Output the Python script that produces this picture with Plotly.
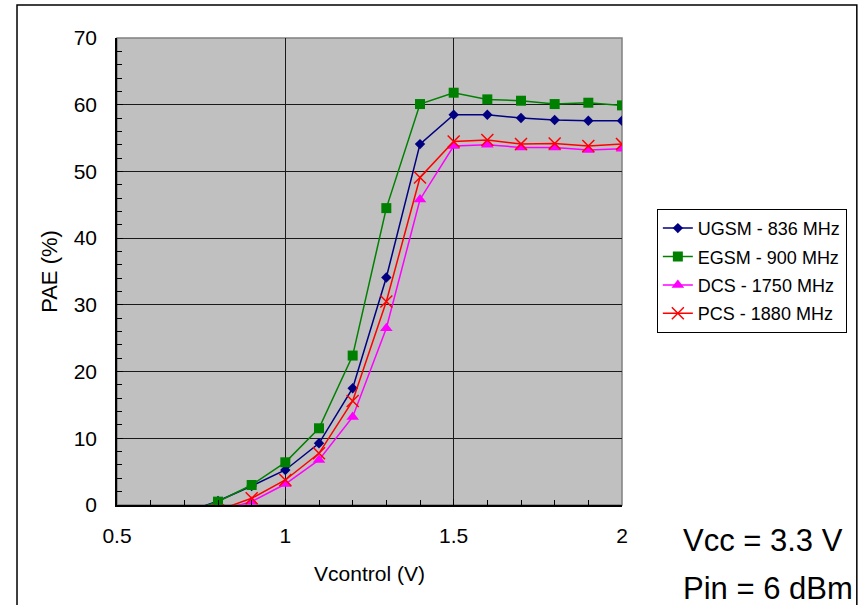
import plotly.graph_objects as go

# Control voltage sweep (V)
vcontrol = [0.7, 0.8, 0.9, 1.0, 1.1, 1.2, 1.3, 1.4, 1.5, 1.6, 1.7, 1.8, 1.9, 2.0]
vcontrol_hb = [0.8, 0.9, 1.0, 1.1, 1.2, 1.3, 1.4, 1.5, 1.6, 1.7, 1.8, 1.9, 2.0]

# Power-added efficiency (%) per band
pae_ugsm = [-1.2, 0.6, 2.85, 5.25, 9.25, 17.5, 34.1, 54.1, 58.5, 58.5, 58.0, 57.7, 57.6, 57.6]
pae_egsm = [-1.2, 0.5, 3.0, 6.4, 11.5, 22.4, 44.5, 60.1, 61.8, 60.8, 60.6, 60.1, 60.3, 59.9]
pae_dcs = [-0.9, 0.5, 3.15, 6.75, 13.2, 26.5, 45.8, 53.8, 54.0, 53.6, 53.6, 53.2, 53.4]
pae_pcs = [-0.8, 1.0, 3.75, 7.75, 15.6, 30.5, 49.1, 54.5, 54.7, 54.1, 54.2, 53.8, 54.1]

series = [
    ("UGSM - 836 MHz", vcontrol, pae_ugsm, "#000080", "diamond", 8),
    ("EGSM - 900 MHz", vcontrol, pae_egsm, "#008000", "square", 10),
    ("DCS - 1750 MHz", vcontrol_hb, pae_dcs, "#FF00FF", "triangle-up", 11),
    ("PCS - 1880 MHz", vcontrol_hb, pae_pcs, "#FF0000", "x-thin", 12),
]

FONT = "Liberation Sans, Arial, sans-serif"

fig = go.Figure()
for i, (name, xs, ys, color, symbol, size) in enumerate(series):
    marker = dict(symbol=symbol, size=size, color=color)
    if symbol == "x-thin":
        marker["line"] = dict(color=color, width=1.5)
    fig.add_trace(go.Scatter(
        x=xs, y=ys, name=name, mode="lines+markers",
        line=dict(color=color, width=1.5),
        marker=marker,
        legendgroup=f"g{i}",
    ))

# Plot-area border (grey top/right edges)
fig.add_shape(type="rect", xref="x domain", yref="y domain",
              x0=0, x1=1, y0=0, y1=1, layer="below",
              line=dict(color="#808080", width=1.5))
# Outer chart frame
fig.add_shape(type="rect", xref="paper", yref="paper",
              x0=-0.198, x1=1.465, y0=-0.3, y1=1.0707, layer="above",
              line=dict(color="#000000", width=1.5))

fig.add_annotation(text="Vcc = 3.3 V", xref="paper", yref="paper",
                   x=1.117, y=-0.075, xanchor="left", yanchor="middle",
                   showarrow=False, font=dict(family=FONT, size=31, color="#000"))
fig.add_annotation(text="Pin = 6 dBm", xref="paper", yref="paper",
                   x=1.117, y=-0.178, xanchor="left", yanchor="middle",
                   showarrow=False, font=dict(family=FONT, size=31, color="#000"))

fig.update_layout(
    width=865, height=605,
    margin=dict(l=117, r=243, t=38, b=100),
    paper_bgcolor="#FFFFFF",
    plot_bgcolor="#C0C0C0",
    font=dict(family=FONT, size=21, color="#000000"),
    legend=dict(
        x=1.069, y=0.634, xanchor="left", yanchor="top",
        bgcolor="#FFFFFF", bordercolor="#000000", borderwidth=1,
        font=dict(family=FONT, size=18, color="#000"),
        tracegroupgap=2,
    ),
    showlegend=True,
)

fig.update_xaxes(
    range=[0.5, 2.0], dtick=0.5, tick0=0.5,
    showgrid=True, gridcolor="#1a1a1a", gridwidth=1,
    showline=True, linecolor="#000000", linewidth=1.5,
    zeroline=False,
    ticks="inside", ticklen=6, tickcolor="#000000",
    minor=dict(dtick=0.1, ticks="inside", ticklen=5, tickcolor="#000000", showgrid=False),
    ticklabelstandoff=11,
    title=dict(text="Vcontrol (V)", font=dict(size=21), standoff=20),
    automargin=False,
)
fig.update_yaxes(
    range=[0, 70], dtick=10,
    showgrid=True, gridcolor="#1a1a1a", gridwidth=1,
    showline=True, linecolor="#000000", linewidth=1.5,
    zeroline=False,
    ticks="inside", ticklen=6, tickcolor="#000000",
    minor=dict(dtick=2, ticks="inside", ticklen=5, tickcolor="#000000", showgrid=False),
    ticklabelstandoff=14,
    title=dict(text="PAE (%)", font=dict(size=22), standoff=10),
    automargin=False,
)

fig.write_html("out.html")
